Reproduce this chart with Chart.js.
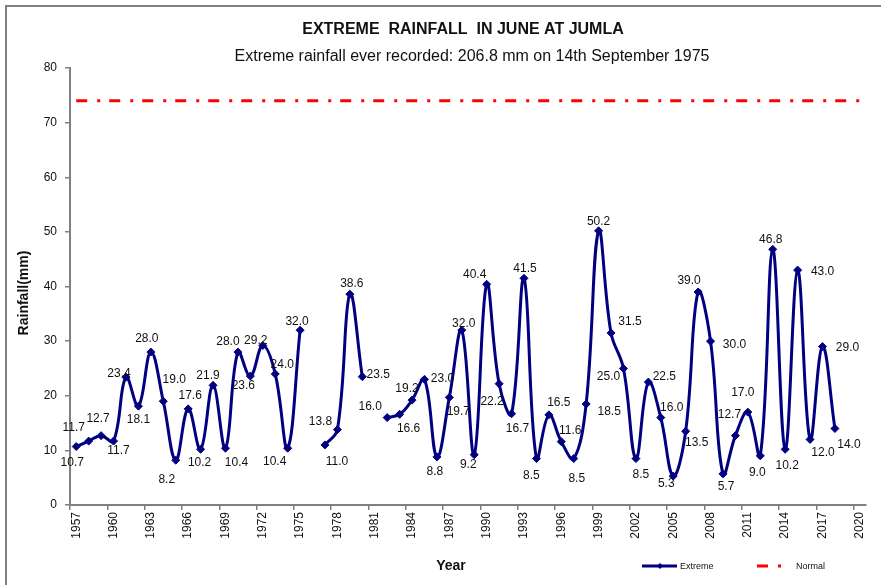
<!DOCTYPE html>
<html>
<head>
<meta charset="utf-8">
<script src="https://cdn.jsdelivr.net/npm/chart.js@4/dist/chart.umd.min.js"></script>
<style>
  html, body { margin: 0; padding: 0; background: #fff; }
  canvas { display: block; }
</style>
</head>
<body>
<canvas id="rainChart" width="881" height="585"></canvas>
<script>
// ---------- Data ----------
const years = [
    '1957', '1958', '1959', '1960', '1961', '1962', '1963', '1964', '1965', '1966', '1967', '1968', '1969', '1970', '1971', '1972',
    '1973', '1974', '1975', '1976', '1977', '1978', '1979', '1980', '1981', '1982', '1983', '1984', '1985', '1986', '1987', '1988',
    '1989', '1990', '1991', '1992', '1993', '1994', '1995', '1996', '1997', '1998', '1999', '2000', '2001', '2002', '2003', '2004',
    '2005', '2006', '2007', '2008', '2009', '2010', '2011', '2012', '2013', '2014', '2015', '2016', '2017', '2018', '2019', '2020'
];

const extremeRain = [
    10.7, 11.7, 12.7, 11.7, 23.4, 18.1, 28.0, 19.0, 8.2, 17.6, 10.2, 21.9, 10.4, 28.0, 23.6, 29.2,
    24.0, 10.4, 32.0, null, 11.0, 13.8, 38.6, 23.5, null, 16.0, 16.6, 19.2, 23.0, 8.8, 19.7, 32.0,
    9.2, 40.4, 22.2, 16.7, 41.5, 8.5, 16.5, 11.6, 8.5, 18.5, 50.2, 31.5, 25.0, 8.5, 22.5, 16.0,
    5.3, 13.5, 39.0, 30.0, 5.7, 12.7, 17.0, 9.0, 46.8, 10.2, 43.0, 12.0, 29.0, 14.0, null, null
];

const normalRain = [
    74, 74, 74, 74, 74, 74, 74, 74, 74, 74, 74, 74, 74, 74, 74, 74,
    74, 74, 74, 74, 74, 74, 74, 74, 74, 74, 74, 74, 74, 74, 74, 74,
    74, 74, 74, 74, 74, 74, 74, 74, 74, 74, 74, 74, 74, 74, 74, 74,
    74, 74, 74, 74, 74, 74, 74, 74, 74, 74, 74, 74, 74, 74, 74, 74
];

const yTicks = [0, 10, 20, 30, 40, 50, 60, 70, 80];

// where each value label sits relative to its marker (px)
const labelOffsets = [
    [-4, 16], [-15, -13], [-3, -17], [5, 10], [-7, -3], [0, 14], [-4, -13], [11, -22], [-9, 19], [2, -13], [-1, 13], [-5, -10], [11, 14], [-10, -10], [-7, 10], [-7, -5],
    [7, -9], [-13, 13], [-3, -9], null, [12, 17], [-17, -8], [2, -10], [16, -2], null, [-17, -11], [9, 14], [-5, -11], [18, -1], [-2, 15], [9, 14], [2, -7],
    [-6, 10], [-12, -10], [-7, 18], [6, 15], [1, -10], [-5, 17], [10, -12], [9, -11], [3, 20], [23, 8], [0, -9], [19, -11], [-15, 8], [5, 16], [16, -5], [11, -10],
    [-7, 8], [11, 11], [-9, -11], [24, 4], [3, 13], [-6, -21], [-5, -19], [-3, 17], [-2, -10], [2, 16], [25, 2], [13, 13], [25, 1], [14, 16], null, null
];

const FONT = '"Liberation Sans", Arial, sans-serif';
const TEXT = '#111';
const AXIS = '#808080';

// ---------- Extra drawing: frame, titles, value labels, legend ----------
const decorPlugin = {
    id: 'decor',
    afterDatasetsDraw(chart) {
        const ctx = chart.ctx;
        const meta = chart.getDatasetMeta(0);
        ctx.save();
        ctx.fillStyle = TEXT;
        ctx.font = `12px ${FONT}`;
        ctx.textAlign = 'center';
        ctx.textBaseline = 'middle';
        meta.data.forEach((pt, i) => {
            const v = extremeRain[i];
            if (v === null || !labelOffsets[i]) return;
            ctx.fillText(v.toFixed(1), pt.x + labelOffsets[i][0], pt.y + labelOffsets[i][1]);
        });
        ctx.restore();
    },
    afterDraw(chart) {
        const ctx = chart.ctx;
        const area = chart.chartArea;
        ctx.save();

        // outer frame
        ctx.strokeStyle = AXIS;
        ctx.lineWidth = 2;
        ctx.strokeRect(6, 6, 900, 600);

        // titles
        ctx.fillStyle = TEXT;
        ctx.textAlign = 'center';
        ctx.textBaseline = 'middle';
        ctx.font = `bold 16px ${FONT}`;
        ctx.fillText('EXTREME  RAINFALL  IN JUNE AT JUMLA', 463, 30);
        ctx.font = `16px ${FONT}`;
        ctx.fillText('Extreme rainfall ever recorded: 206.8 mm on 14th September 1975', 472, 57);

        // axis titles
        ctx.font = `bold 14px ${FONT}`;
        ctx.fillText('Year', 451, 566);
        ctx.save();
        ctx.translate(24, 293);
        ctx.rotate(-Math.PI / 2);
        ctx.fillText('Rainfall(mm)', 0, 0);
        ctx.restore();

        // legend
        const ly = 566;
        ctx.strokeStyle = '#000080';
        ctx.lineWidth = 3;
        ctx.beginPath();
        ctx.moveTo(642, ly);
        ctx.lineTo(677, ly);
        ctx.stroke();
        ctx.fillStyle = '#000080';
        ctx.beginPath();
        ctx.moveTo(660, ly - 3);
        ctx.lineTo(663, ly);
        ctx.lineTo(660, ly + 3);
        ctx.lineTo(657, ly);
        ctx.closePath();
        ctx.fill();

        ctx.strokeStyle = '#FF0000';
        ctx.beginPath();
        ctx.moveTo(757, ly);
        ctx.lineTo(768, ly);
        ctx.moveTo(778, ly);
        ctx.lineTo(781, ly);
        ctx.stroke();

        ctx.fillStyle = TEXT;
        ctx.font = `9px ${FONT}`;
        ctx.textAlign = 'left';
        ctx.fillText('Extreme', 680, ly + 1);
        ctx.fillText('Normal', 796, ly + 1);

        ctx.restore();
    }
};

// ---------- Chart ----------
const chartCtx = document.getElementById('rainChart').getContext('2d');
new Chart(chartCtx, {
    type: 'line',
    data: {
        labels: years,
        datasets: [{
            label: 'Extreme',
            data: extremeRain,
            borderColor: '#000080',
            backgroundColor: '#000080',
            borderWidth: 3,
            pointStyle: 'rectRot',
            pointRadius: 4,
            pointBackgroundColor: '#000080',
            pointBorderColor: '#000080',
            pointBorderWidth: 1,
            tension: 0.4,
            spanGaps: false,
            fill: false
        }, {
            label: 'Normal',
            data: normalRain,
            borderColor: '#FF0000',
            borderWidth: 3,
            borderDash: [11, 10, 3, 9],
            pointRadius: 0,
            tension: 0,
            fill: false
        }]
    },
    options: {
        responsive: false,
        animation: false,
        devicePixelRatio: 1,
        layout: { padding: { left: 0, right: 15, top: 68, bottom: 0 } },
        plugins: {
            legend: { display: false },
            title: { display: false },
            tooltip: { enabled: false }
        },
        scales: {
            x: {
                type: 'category',
                offset: true,
                grid: {
                    offset: true,
                    drawOnChartArea: false,
                    tickLength: 5,
                    lineWidth: 1.5,
                    color: (c) => (c.index % 3 === 0 ? AXIS : 'rgba(0,0,0,0)')
                },
                border: { color: AXIS, width: 2 },
                ticks: {
                    autoSkip: false,
                    minRotation: 90,
                    maxRotation: 90,
                    padding: 2,
                    color: TEXT,
                    font: { family: FONT, size: 12 },
                    callback: function(val, i) {
                        return i % 3 === 0 ? this.getLabelForValue(val) : '';
                    }
                },
                afterFit: (scale) => { scale.height = 80; }
            },
            y: {
                min: 0,
                max: 80,
                afterBuildTicks: (scale) => { scale.ticks = yTicks.map(v => ({ value: v })); },
                grid: {
                    drawOnChartArea: false,
                    tickLength: 5,
                    lineWidth: 1.5,
                    color: AXIS
                },
                border: { color: AXIS, width: 2 },
                ticks: {
                    padding: 8,
                    color: TEXT,
                    font: { family: FONT, size: 12 }
                },
                afterFit: (scale) => { scale.width = 70; }
            }
        }
    },
    plugins: [decorPlugin]
});
</script>
</body>
</html>
